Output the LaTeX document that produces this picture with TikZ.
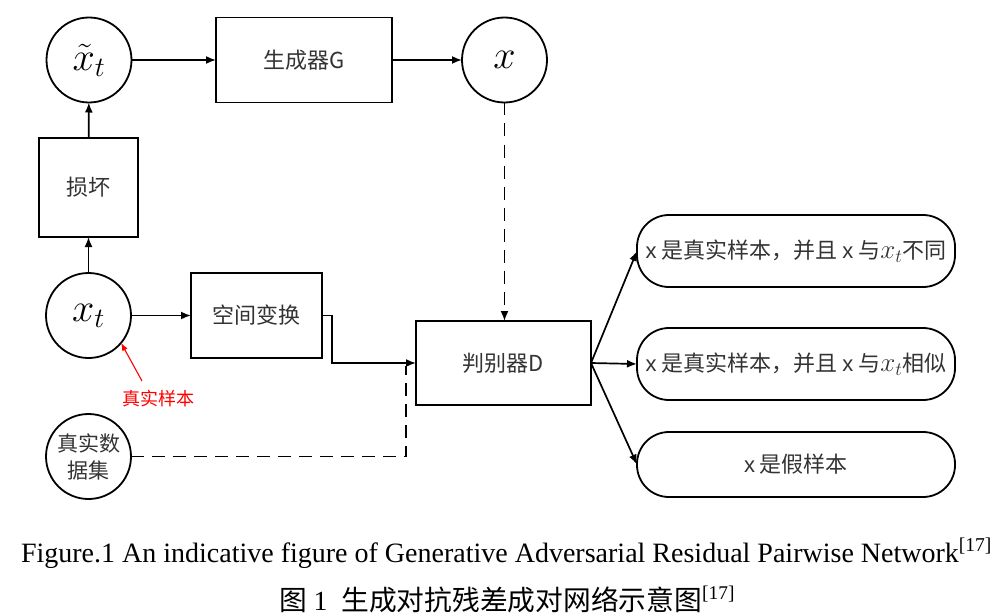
\RequirePackage{fix-cm}
\documentclass[tikz,border=0pt]{standalone}
\usepackage{graphicx}
\usepackage{fontspec}
\setmainfont{Liberation Serif}
\newfontfamily\cjk{Noto Sans CJK SC}
\newfontfamily\sansx{Liberation Sans}
\usetikzlibrary{arrows.meta}
\newcommand{\mxt}{{\fontsize{27}{28}\selectfont$x_t$}}
\begin{document}
\begin{tikzpicture}[x=1pt,y=-1pt,
  every node/.style={inner sep=0pt, outer sep=0pt},
  circ/.style={draw, circle, line width=1.8pt, minimum size=85pt, font=\fontsize{40}{44}\selectfont},
  boxn/.style={draw, rectangle, line width=1.8pt},
  rbox/.style={draw, rectangle, rounded corners=32pt, line width=1.8pt, minimum width=318pt},
  lbl/.style={font=\cjk\fontsize{22}{24}\selectfont, text=black!80},
  conn/.style={line width=1.7pt, -{Latex[length=10pt,width=8pt]}},
  dconn/.style={line width=1.7pt, dash pattern=on 13pt off 8pt},
]
\useasboundingbox (0,0) rectangle (998,615);

\node[circ] (xtil) at (89,60) {$\tilde{x}_t$};
\node[boxn, minimum width=176pt, minimum height=85pt, lbl] (G) at (304,60) {生成器G};
\node[circ] (x) at (504.5,60) {$x$};
\node[boxn, minimum width=99pt, minimum height=99pt, lbl] (dmg) at (88.5,187.5) {损坏};
\node[circ] (xt) at (88.5,315.5) {$x_t$};
\node[boxn, minimum width=131pt, minimum height=85pt, lbl] (sp) at (256.5,315.5) {空间变换};
\node[boxn, minimum width=175pt, minimum height=84pt, lbl] (D) at (503.5,363) {判别器D};
\node[circ, align=center, font=\cjk\fontsize{21}{27}\selectfont, text=black!80] (ds) at (88.5,456.5) {真实数\\据集};

\node[rbox, minimum height=72pt, lbl] (r1) at (796,251) {{\sansx x} 是真实样本，并且 {\sansx x} 与\mxt 不同};
\node[rbox, minimum height=72pt, lbl] (r2) at (796,364) {{\sansx x} 是真实样本，并且 {\sansx x} 与\mxt 相似};
\node[rbox, minimum height=65pt, lbl] (r3) at (796,464.5) {{\sansx x} 是假样本};

\node[font=\cjk\fontsize{18}{20}\selectfont, text=red] (rl) at (158,399) {真实样本};
\coordinate (rs) at (142,381);
\draw[red, line width=1.1pt, -{Latex[length=8pt,width=6pt]}] (rs) -- (xt.-40);

\draw[conn] (xtil) -- (G);
\draw[conn] (G) -- (x);
\draw[conn] (dmg) -- (xtil);
\draw[conn] (xt) -- (dmg);
\draw[conn] (xt) -- (sp);
\draw[conn] (sp.east) -- ++(10,0) |- (D.west);
\draw[dconn, -{Latex[length=10pt,width=8pt]}] (x) -- (x |- D.north);
\coordinate (dj) at (406,366);
\draw[dconn] (ds) -| (dj);
\draw[conn] (D.east) -- (r1.west);
\draw[conn] (D.east) -- (r2.west);
\draw[conn] (D.east) -- (r3.west);

\node[anchor=base west] (cap1) at (21,562) {\resizebox{971pt}{!}{\fontsize{27}{30}\selectfont Figure.1 An indicative figure of Generative Adversarial Residual Pairwise Network\textsuperscript{[17]}}};
\node[anchor=base west] (cap2) at (279,610) {\resizebox{456pt}{!}{\fontsize{27}{30}\selectfont{\cjk 图} 1\ \ {\cjk 生成对抗残差成对网络示意图}\textsuperscript{[17]}}};
\end{tikzpicture}
\end{document}
